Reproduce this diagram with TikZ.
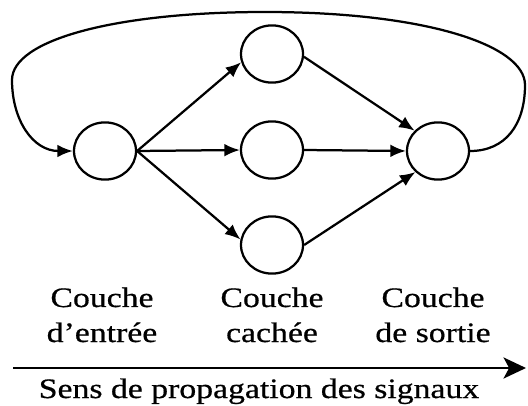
\documentclass[tikz,border=0pt]{standalone}
\usepackage{fontspec}
\setmainfont{Liberation Serif}[FakeStretch=1.2,FakeBold=0.6]
\usetikzlibrary{arrows.meta,shapes.geometric}

\tikzset{
  neuron/.style={draw, ellipse, line width=1.6pt, minimum width=1.55cm, minimum height=1.43cm, inner sep=0pt},
  layer/.style={align=center, anchor=base, font=\fontsize{20}{24.9}\selectfont},
  >={Latex[length=11pt,width=9pt]}
}

\begin{document}
\begin{tikzpicture}[line width=1.6pt]
\useasboundingbox (0,0) rectangle (13.2,10.125);

\node[neuron] (v1) at (2.625,6.35) {};
\node[neuron] (v2) at (6.8,8.775) {};
\node[neuron] (v3) at (6.8,6.375) {};
\node[neuron] (v4) at (6.8,4.0) {};
\node[neuron] (v5) at (10.95,6.35) {};
\draw [->] (v1.east) -- (v2.195);
\draw [->] (v1.east) -- (v3.west);
\draw [->] (v1.east) -- (v4.170);
\draw [->] (v2.-5) -- (v5.139);
\draw [->] (v3.east) -- (v5.west);
\draw [->] (v4.east) -- (v5.223);
% retour de la sortie vers l'entree
\coordinate (v6) at (13.125,8.0);
\coordinate (v7) at (6.625,9.825);
\coordinate (v8) at (0.3,8.125);
\draw [->] (v5.east) .. controls +(0.875,0) and +(0,-1) .. (v6)
  .. controls +(0,1) and +(4,0) .. (v7)
  .. controls +(-3.75,0) and +(0,1) .. (v8)
  .. controls +(0,-1) and +(-1,0) .. (v1.west);

\node[layer] (v9) at (2.55,1.575) {Couche\\d’entrée};
\node[layer] (v10) at (6.8,1.575) {Couche\\cachée};
\node[layer] (v11) at (10.825,1.575) {Couche\\de sortie};
\coordinate (v12) at (0.325,0.925);
\coordinate (v13) at (13.15,0.925);
\draw [-{Stealth[length=16pt,width=15pt,inset=4pt]}] (v12) -- (v13);
\node[layer] (v14) at (6.475,0.175) {Sens de propagation des signaux};
\end{tikzpicture}
\end{document}
